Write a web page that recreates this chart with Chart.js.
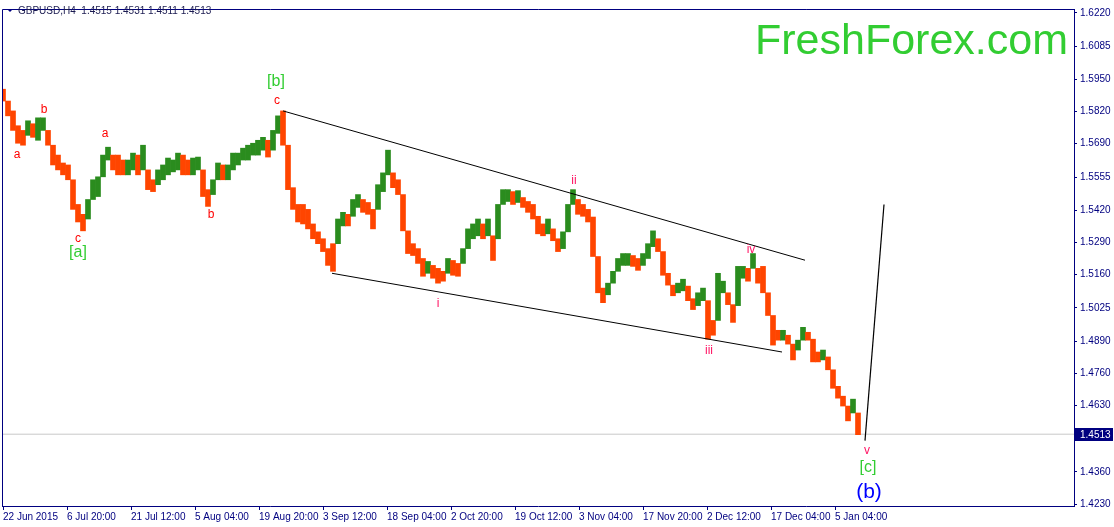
<!DOCTYPE html>
<html>
<head>
<meta charset="utf-8">
<script src="https://cdn.jsdelivr.net/npm/chart.js@4.4.1/dist/chart.umd.min.js"></script>
<style>
  html, body { margin: 0; padding: 0; background: #fff; }
</style>
</head>
<body>
<canvas id="chart" width="1114" height="527"></canvas>
<script>
// GBPUSD H4 - one sample every 5 bars, high / low of that stretch
const barIndex = [
  0, 5, 10, 15, 20, 25, 30, 35, 40, 45, 50, 55, 60, 65, 70, 75, 80, 85, 90, 95,
  100, 105, 110, 115, 120, 125, 130, 135, 140, 145, 150, 155, 160, 165, 170, 175, 180, 185, 190, 195,
  200, 205, 210, 215, 220, 225, 230, 235, 240, 245, 250, 255, 260, 265, 270, 275, 280, 285, 290, 295,
  300, 305, 310, 315, 320, 325, 330, 335, 340, 345, 350, 355, 360, 365, 370, 375, 380, 385, 390, 395,
  400, 405, 410, 415, 420, 425, 430, 435, 440, 445, 450, 455, 460, 465, 470, 475, 480, 485, 490, 495,
  500, 505, 510, 515, 520, 525, 530, 535, 540, 545, 550, 555, 560, 565, 570, 575, 580, 585, 590, 595,
  600, 605, 610, 615, 620, 625, 630, 635, 640, 645, 650, 655, 660, 665, 670, 675, 680, 685, 690, 695,
  700, 705, 710, 715, 720, 725, 730, 735, 740, 745, 750, 755, 760, 765, 770, 775, 780, 785, 790, 795,
  800, 805, 810, 815, 820, 825, 830, 835, 840, 845, 850, 855
];
const highs = [
  1.5911, 1.5863, 1.5823, 1.5763, 1.5744, 1.5783, 1.5771, 1.5795, 1.5795, 1.5744,
  1.5664, 1.5644, 1.5612, 1.5604, 1.5516, 1.5444, 1.5404, 1.5464, 1.5544, 1.5556,
  1.5644, 1.5676, 1.5644, 1.5644, 1.5624, 1.5624, 1.5652, 1.5644, 1.5684, 1.5556,
  1.5544, 1.5584, 1.5604, 1.5632, 1.5624, 1.5652, 1.5644, 1.5624, 1.5632, 1.5636,
  1.5532, 1.5504, 1.5544, 1.5612, 1.5604, 1.5604, 1.5652, 1.5652, 1.5672, 1.5684,
  1.5692, 1.5704, 1.5716, 1.5704, 1.5744, 1.5803, 1.5823, 1.5684, 1.5512, 1.5444,
  1.5444, 1.5424, 1.5365, 1.5333, 1.5305, 1.5265, 1.5285, 1.5385, 1.5412, 1.5404,
  1.5464, 1.5484, 1.5464, 1.5452, 1.5424, 1.5524, 1.5572, 1.5664, 1.5572, 1.5544,
  1.5424, 1.5305, 1.5285, 1.5265, 1.5225, 1.5213, 1.5197, 1.5185, 1.5173, 1.5225,
  1.5217, 1.5205, 1.5265, 1.5345, 1.5365, 1.5385, 1.5365, 1.5385, 1.5305, 1.5444,
  1.5504, 1.5504, 1.5496, 1.5500, 1.5472, 1.5456, 1.5444, 1.5396, 1.5365, 1.5385,
  1.5345, 1.5305, 1.5333, 1.5444, 1.5504, 1.5464, 1.5444, 1.5424, 1.5393, 1.5233,
  1.5105, 1.5125, 1.5173, 1.5225, 1.5245, 1.5245, 1.5237, 1.5225, 1.5245, 1.5285,
  1.5337, 1.5305, 1.5213, 1.5165, 1.5113, 1.5125, 1.5141, 1.5113, 1.5062, 1.5086,
  1.5105, 1.5026, 1.4974, 1.5165, 1.5133, 1.5086, 1.5034, 1.5193, 1.5193, 1.5185,
  1.5245, 1.5185, 1.5193, 1.5058, 1.4966, 1.4934, 1.4934, 1.4914, 1.4866, 1.4894,
  1.4946, 1.4926, 1.4898, 1.4846, 1.4854, 1.4826, 1.4754, 1.4707, 1.4667, 1.4627,
  1.4655, 1.4575
];
const lows = [
  1.5863, 1.5803, 1.5744, 1.5692, 1.5684, 1.5724, 1.5716, 1.5704, 1.5744, 1.5684,
  1.5604, 1.5584, 1.5564, 1.5544, 1.5424, 1.5373, 1.5337, 1.5385, 1.5464, 1.5476,
  1.5564, 1.5624, 1.5584, 1.5564, 1.5564, 1.5564, 1.5584, 1.5564, 1.5584, 1.5504,
  1.5496, 1.5524, 1.5544, 1.5564, 1.5576, 1.5584, 1.5564, 1.5564, 1.5564, 1.5584,
  1.5476, 1.5436, 1.5484, 1.5556, 1.5544, 1.5544, 1.5584, 1.5604, 1.5624, 1.5624,
  1.5644, 1.5644, 1.5664, 1.5636, 1.5664, 1.5732, 1.5684, 1.5504, 1.5424, 1.5373,
  1.5365, 1.5345, 1.5305, 1.5285, 1.5253, 1.5197, 1.5173, 1.5285, 1.5357, 1.5357,
  1.5396, 1.5432, 1.5412, 1.5404, 1.5345, 1.5424, 1.5496, 1.5564, 1.5512, 1.5484,
  1.5337, 1.5245, 1.5237, 1.5205, 1.5153, 1.5165, 1.5145, 1.5125, 1.5133, 1.5165,
  1.5157, 1.5153, 1.5213, 1.5277, 1.5305, 1.5317, 1.5305, 1.5317, 1.5217, 1.5325,
  1.5444, 1.5456, 1.5444, 1.5452, 1.5432, 1.5412, 1.5385, 1.5325, 1.5317, 1.5325,
  1.5297, 1.5253, 1.5265, 1.5345, 1.5444, 1.5404, 1.5396, 1.5373, 1.5233, 1.5086,
  1.5046, 1.5078, 1.5125, 1.5173, 1.5197, 1.5197, 1.5193, 1.5177, 1.5197, 1.5225,
  1.5273, 1.5253, 1.5157, 1.5117, 1.5074, 1.5086, 1.5094, 1.5054, 1.5018, 1.5034,
  1.5054, 1.4898, 1.4914, 1.5046, 1.5086, 1.5038, 1.4966, 1.5086, 1.5145, 1.5133,
  1.5185, 1.5125, 1.5086, 1.4994, 1.4874, 1.4894, 1.4894, 1.4878, 1.4814, 1.4854,
  1.4898, 1.4894, 1.4806, 1.4806, 1.4814, 1.4774, 1.4699, 1.4659, 1.4627, 1.4567,
  1.4599, 1.4511
];
const lastBar = { open: 1.4515, high: 1.4531, low: 1.4511, close: 1.4513 };

// wave lines drawn on the chart (bar index, price)
const channelTop = [[280, 1.5823], [802, 1.5218]];
const channelBottom = [[329, 1.5165], [779, 1.4846]];
const projection = [[862, 1.4487], [881, 1.5444]];

// axis ticks
const xTickBars = [0, 64, 128, 192, 256, 320, 384, 448, 512, 576, 640, 704, 768, 832];
const xTickLabels = ['22 Jun 2015', '6 Jul 20:00', '21 Jul 12:00', '5 Aug 04:00', '19 Aug 20:00',
  '3 Sep 12:00', '18 Sep 04:00', '2 Oct 20:00', '19 Oct 12:00', '3 Nov 04:00', '17 Nov 20:00',
  '2 Dec 12:00', '17 Dec 04:00', '5 Jan 04:00'];
const yTicks = [1.6220, 1.6085, 1.5950, 1.5820, 1.5690, 1.5555, 1.5420, 1.5290, 1.5160,
  1.5025, 1.4890, 1.4760, 1.4630, 1.4495, 1.4360, 1.4230];

// wave labels
const waveLabels = [
  { text: '[b]', bar: 273, price: 1.5943, color: '#32CD32', size: 16 },
  { text: 'c', bar: 274, price: 1.5863, color: '#FF0000', size: 12 },
  { text: 'a', bar: 14, price: 1.5644, color: '#FF0000', size: 12 },
  { text: 'b', bar: 41, price: 1.5827, color: '#FF0000', size: 12 },
  { text: 'c', bar: 75, price: 1.5305, color: '#FF0000', size: 12 },
  { text: '[a]', bar: 75, price: 1.5249, color: '#32CD32', size: 16 },
  { text: 'a', bar: 102, price: 1.5732, color: '#FF0000', size: 12 },
  { text: 'b', bar: 208, price: 1.5401, color: '#FF0000', size: 12 },
  { text: 'i', bar: 435, price: 1.5042, color: '#FF1464', size: 12 },
  { text: 'ii', bar: 571, price: 1.5540, color: '#FF1464', size: 12 },
  { text: 'iii', bar: 706, price: 1.4850, color: '#FF1464', size: 12 },
  { text: 'iv', bar: 748, price: 1.5261, color: '#FF1464', size: 12 },
  { text: 'v', bar: 864, price: 1.4447, color: '#FF1464', size: 12 },
  { text: '[c]', bar: 865, price: 1.4376, color: '#32CD32', size: 16 },
  { text: '(b)', bar: 866, price: 1.4276, color: '#0000FF', size: 21 }
];

const navy = '#000080';
const upColor = '#2A8C1E';
const downColor = '#FF4500';

const barColors = highs.map((h, i) => {
  if (i === 0) return downColor;
  const mid = (h + lows[i]) / 2;
  const prev = (highs[i - 1] + lows[i - 1]) / 2;
  return mid >= prev ? upColor : downColor;
});

// each stretch is drawn from its low to its high, reaching back to the
// previous stretch when price gapped, so the band stays continuous
const barRanges = highs.map((h, i) => {
  let lo = lows[i], hi = h;
  if (i > 0) {
    if (lows[i - 1] > hi) hi = lows[i - 1];
    if (highs[i - 1] < lo) lo = highs[i - 1];
  }
  return [lo, hi];
});

function linePoints(pts) {
  return pts.map(p => ({ x: p[0], y: p[1] }));
}

const framePlugin = {
  id: 'mtFrame',
  beforeDraw(chart) {
    const ctx = chart.ctx;
    ctx.save();
    ctx.fillStyle = '#fff';
    ctx.fillRect(0, 0, chart.width, chart.height);
    ctx.restore();
  },
  afterDatasetsDraw(chart) {
    const ctx = chart.ctx;
    const xs = chart.scales.x, ys = chart.scales.y;
    ctx.save();
    ctx.textAlign = 'center';
    ctx.textBaseline = 'middle';
    waveLabels.forEach(l => {
      ctx.font = l.size + 'px "Liberation Sans", Arial, sans-serif';
      ctx.fillStyle = l.color;
      ctx.fillText(l.text, xs.getPixelForValue(l.bar), ys.getPixelForValue(l.price));
    });
    ctx.restore();
  },
  afterDraw(chart) {
    const ctx = chart.ctx;
    const a = chart.chartArea;
    const ys = chart.scales.y;
    ctx.save();
    // frame top / left
    ctx.strokeStyle = navy;
    ctx.lineWidth = 1;
    ctx.beginPath();
    ctx.moveTo(a.left + 0.5, a.bottom);
    ctx.lineTo(a.left + 0.5, a.top + 0.5);
    ctx.lineTo(a.right, a.top + 0.5);
    ctx.stroke();

    // watermark
    ctx.font = '43px "Liberation Sans", Arial, sans-serif';
    ctx.fillStyle = '#32CD32';
    ctx.textAlign = 'left';
    ctx.textBaseline = 'alphabetic';
    ctx.fillText('FreshForex.com', 755, 54);

    // header
    ctx.fillStyle = navy;
    ctx.beginPath();
    ctx.moveTo(7, 9); ctx.lineTo(13, 9); ctx.lineTo(10, 12); ctx.closePath();
    ctx.fill();
    ctx.fillStyle = '#1a1a50';
    ctx.font = '10px "Liberation Sans", Arial, sans-serif';
    ctx.textBaseline = 'middle';
    ctx.fillText('GBPUSD,H4  ' + [lastBar.open, lastBar.high, lastBar.low, lastBar.close]
      .map(v => v.toFixed(4)).join(' '), 18, 11);

    // current price box
    const py = Math.round(ys.getPixelForValue(lastBar.close));
    ctx.fillStyle = navy;
    ctx.fillRect(a.right + 1, py - 6, 38, 13);
    ctx.fillStyle = '#fff';
    ctx.fillText(lastBar.close.toFixed(4), a.right + 6, py + 1);
    ctx.restore();
  }
};

new Chart(document.getElementById('chart'), {
  data: {
    datasets: [
      {
        type: 'bar',
        data: barIndex.map((b, i) => ({ x: b, y: barRanges[i] })),
        backgroundColor: barColors,
        borderWidth: 0,
        barThickness: 5,
        minBarLength: 2,
        order: 3
      },
      {
        type: 'line',
        data: [{ x: -1, y: lastBar.close }, { x: 1071, y: lastBar.close }],
        borderColor: '#C8C8C8', borderWidth: 1, pointRadius: 0, order: 4
      },
      {
        type: 'line', data: linePoints(channelTop),
        borderColor: '#000', borderWidth: 1, pointRadius: 0, order: 1
      },
      {
        type: 'line', data: linePoints(channelBottom),
        borderColor: '#000', borderWidth: 1, pointRadius: 0, order: 1
      },
      {
        type: 'line', data: linePoints(projection),
        borderColor: '#000', borderWidth: 1.2, pointRadius: 0, order: 1
      }
    ]
  },
  options: {
    responsive: false,
    animation: false,
    devicePixelRatio: 1,
    layout: { padding: { left: 2, top: 1, right: 0, bottom: 0 } },
    plugins: { legend: { display: false }, tooltip: { enabled: false } },
    scales: {
      x: {
        type: 'linear',
        position: 'bottom',
        offset: false,
        min: -1,
        max: 1071,
        afterFit: s => { s.height = 21; },
        afterBuildTicks: s => { s.ticks = xTickBars.map(v => ({ value: v })); },
        ticks: {
          autoSkip: false,
          maxRotation: 0,
          align: 'start',
          labelOffset: 0,
          padding: 1,
          color: navy,
          font: { family: '"Liberation Sans", Arial, sans-serif', size: 10 },
          callback: (v, i) => xTickLabels[i]
        },
        grid: { offset: false, drawOnChartArea: false, drawTicks: true, tickLength: 4, color: navy },
        border: { color: navy, width: 1 }
      },
      y: {
        type: 'linear',
        position: 'right',
        min: 1.4222,
        max: 1.6236,
        afterFit: s => { s.width = 40; },
        afterBuildTicks: s => { s.ticks = yTicks.map(v => ({ value: v })); },
        ticks: {
          padding: 3,
          color: navy,
          font: { family: '"Liberation Sans", Arial, sans-serif', size: 10 },
          callback: v => v.toFixed(4)
        },
        grid: { drawOnChartArea: false, drawTicks: true, tickLength: 3, color: navy },
        border: { color: navy, width: 1 }
      }
    }
  },
  plugins: [framePlugin]
});
</script>
</body>
</html>
